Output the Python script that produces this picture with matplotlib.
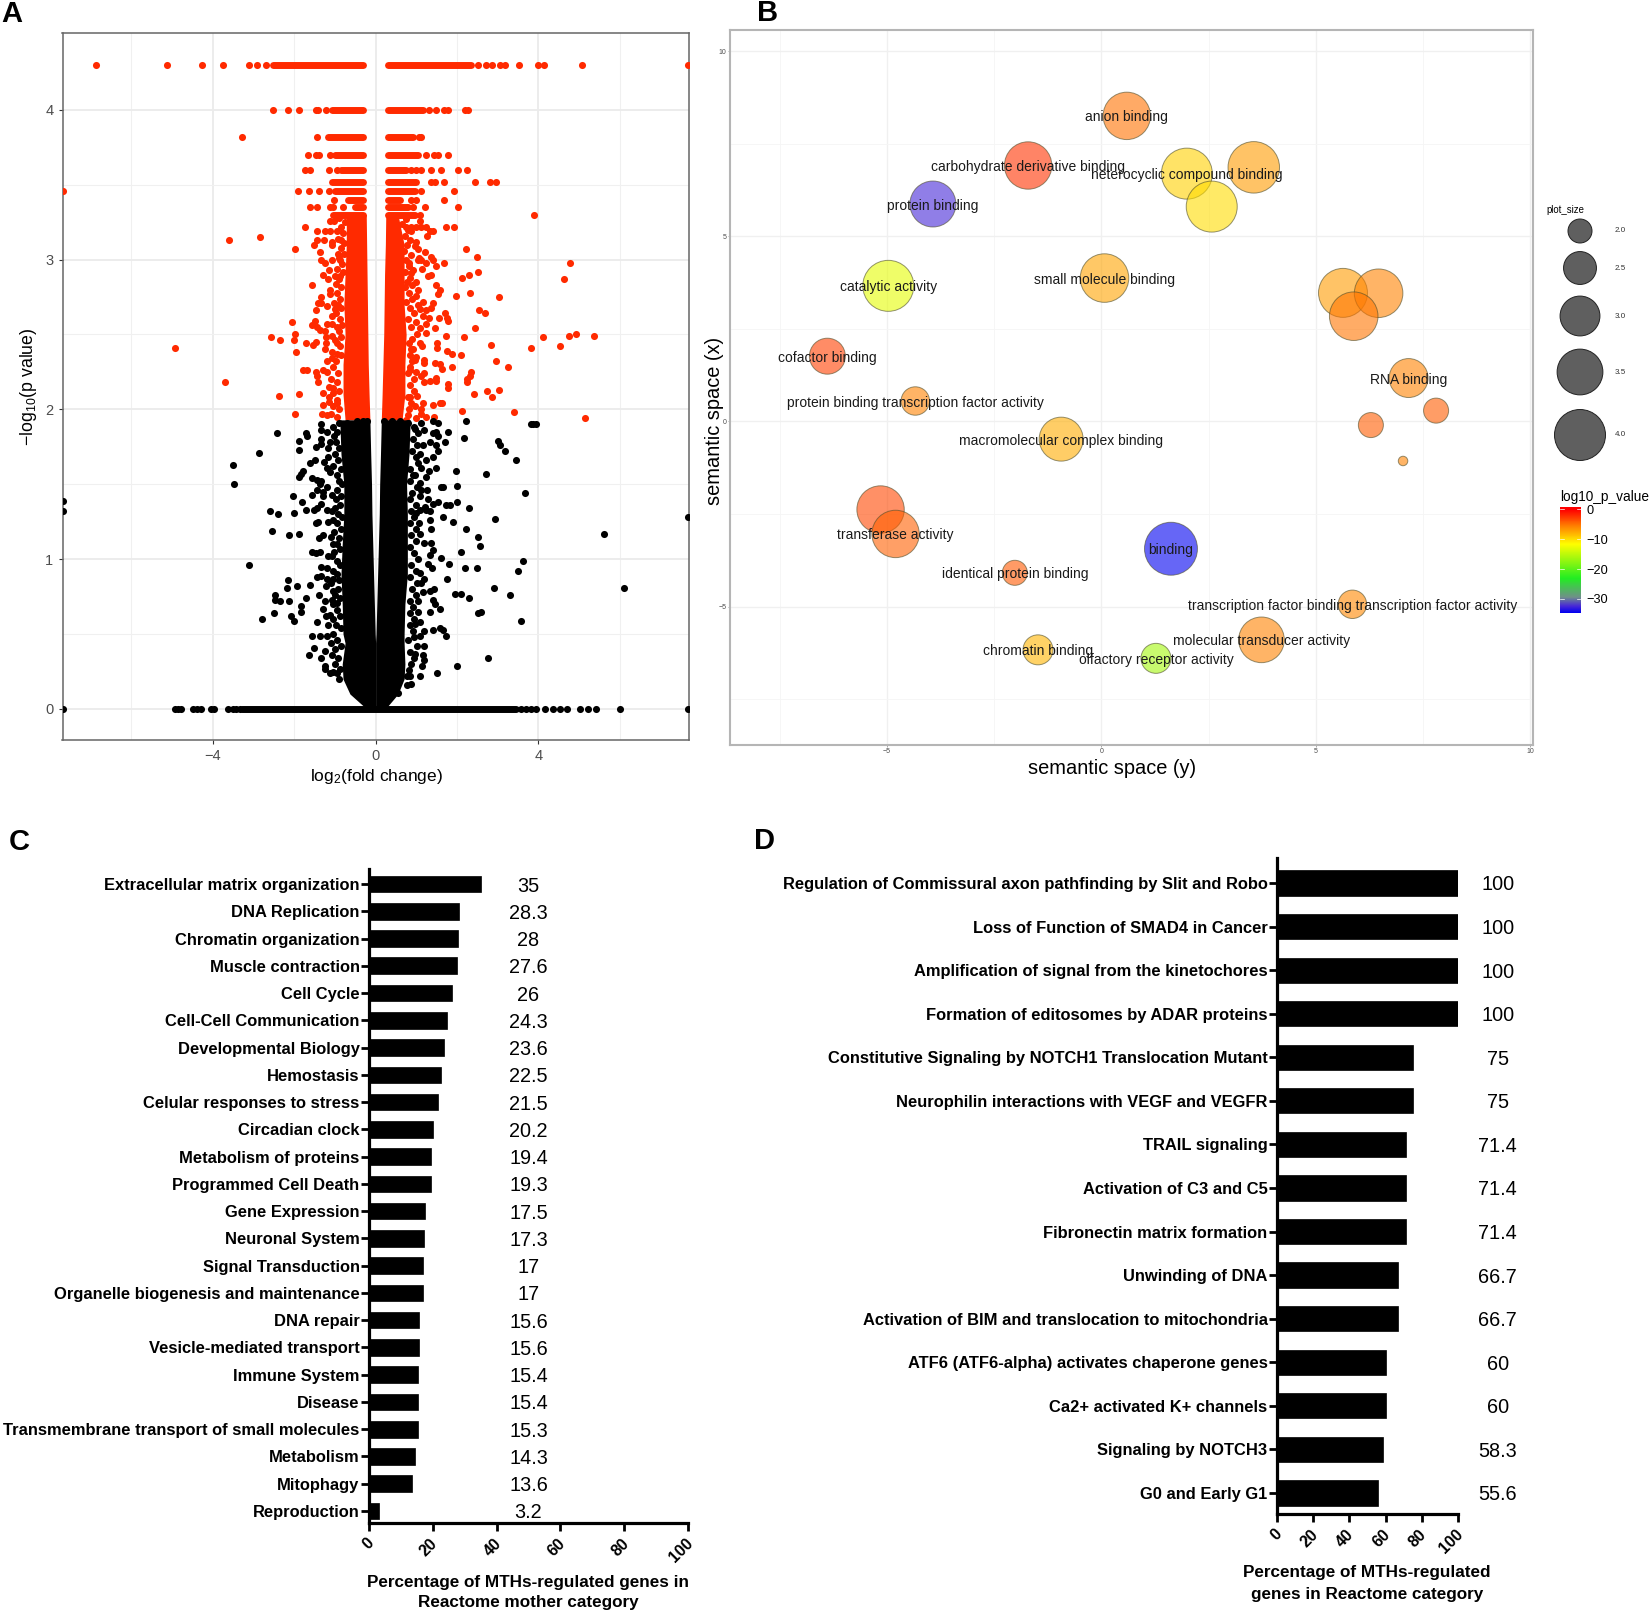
import numpy as np
import matplotlib
matplotlib.use('Agg')
import matplotlib.pyplot as plt
from matplotlib.colors import LinearSegmentedColormap
from matplotlib.transforms import ScaledTranslation

plt.rcParams['font.family'] = ['Liberation Sans', 'DejaVu Sans']
plt.rcParams['mathtext.default'] = 'regular'
plt.rcParams['axes.unicode_minus'] = True

W, H = 1650, 1614

# ---- panel A: volcano plot ----
# rows of p values that pile up, each with a solid run and some single points
red_row_y = [4.30, 4.00, 3.82, 3.70, 3.60, 3.52, 3.46, 3.40, 3.35, 3.30]
red_row_left = [-2.51, -1.08, -1.16, -1.00, -0.84, -1.06, -1.00, -0.67, -0.51, -1.04]
red_row_right = [2.35, 1.16, 0.92, 1.04, 0.75, 1.00, 0.96, 0.61, 0.80, 0.96]
red_row_single = [
    [-6.87, -5.12, -4.26, -3.74, -3.10, -2.92, -2.70, 2.52, 2.72, 2.87, 3.06, 3.19, 3.51, 3.98, 4.14, 5.07, 7.67],
    [-2.52, -2.15, -1.88, -1.47, -1.41, -1.21, 1.31, 1.49, 1.67, 1.78, 2.19, 2.28],
    [-3.29, -1.43, 1.06, 1.12],
    [-1.66, -1.47, -1.38, -1.11, 1.24, 1.43, 1.53, 1.79],
    [-1.74, -1.61, -1.14, -0.96, 0.88, 1.00, 1.12, 1.37, 1.61, 2.02, 2.25],
    [1.37, 1.45, 1.67, 2.43, 2.80, 2.95],
    [-7.67, -1.90, -1.64, -1.38, -1.15, 1.12, 1.92],
    [-1.01, 0.88, 1.00, 1.68],
    [-1.61, -1.43, -1.11, -1.04, -0.79, 0.92, 1.22, 2.03],
    [1.10, 3.90],
]

# scattered significant genes, left side then right side
red_x = [-1.11, -1.02, -1.74, -1.45, -1.24, -1.12, -0.96, -2.84, -3.60, -1.26, -1.43, -1.52, -1.06, -1.06, -0.84,
         -1.98, -1.37, -0.92, -1.33, -1.08, -1.24, -0.88, -1.29, -1.14, -1.18, -1.00, -0.88, -1.56, -1.12, -1.12,
         -1.35, -1.41, -1.33, -1.19, -1.02, -1.47, -1.00, -1.06, -2.05, -1.49, -1.57, -1.45, -1.37, -1.20, -1.08,
         -1.24, -0.96, -1.06, -1.97, -2.57, -2.35, -2.00, -1.47, -1.70, -1.53, -1.23, -1.23, -1.24, -4.93, -1.96,
         -0.96, -0.96, -1.20, -1.79, -1.68, -1.47, -1.29, -1.20, -1.45, -1.08, -3.69, -1.41, -2.38, -1.89, -1.29,
         -1.14, -1.29, -1.99, -1.31, -1.20, -1.14, -1.04, -0.96,
         1.08, 0.75, 0.88, 0.98, 1.12, 1.23, 1.73, 1.92, 1.33, 1.41, 1.26, 0.88, 1.00, 0.96, 1.04, 2.21, 1.22, 2.48,
         1.37, 1.41, 1.07, 1.04, 1.25, 0.81, 1.12, 1.67, 4.77, 1.49, 1.14, 0.92, 0.88, 2.51, 2.29, 2.12, 1.37, 1.29,
         4.63, 1.49, 0.98, 0.90, 1.57, 1.05, 1.53, 2.32, 1.97, 1.00, 3.02, 1.16, 1.41, 1.04, 1.08, 1.37, 1.24, 2.54,
         2.68, 1.70, 1.75, 1.56, 1.79, 1.16, 1.31, 1.24, 1.47, 2.44, 1.08, 1.25, 1.74, 2.18, 4.12, 4.74, 4.92, 5.36,
         4.52, 3.81, 2.84, 1.08, 1.13, 1.52, 1.51, 1.75, 1.88, 2.10, 0.93, 1.00, 0.96, 1.20, 1.20, 1.45, 1.57, 1.62,
         1.88, 2.96, 3.26, 0.84, 1.00, 1.20, 2.35, 2.31, 1.49, 1.12, 2.24, 1.78, 1.79, 2.25, 2.74, 3.02, 2.85, 2.42,
         1.02, 1.16, 1.42, 1.57, 1.63, 0.96, 1.12, 1.12, 2.12, 3.40, 5.14, 0.75, 1.00, 1.25, 1.43, 1.20, 1.33, 1.49,
         0.84]
red_y = [3.26, 3.26, 3.22, 3.19, 3.19, 3.19, 3.19, 3.15, 3.13, 3.13, 3.13, 3.10, 3.12, 3.10, 3.13,
         3.07, 3.05, 3.04, 3.00, 3.00, 2.98, 3.00, 2.90, 2.93, 2.87, 2.89, 2.89, 2.83, 2.80, 2.77,
         2.75, 2.71, 2.71, 2.69, 2.71, 2.66, 2.67, 2.62, 2.58, 2.59, 2.56, 2.55, 2.53, 2.57, 2.57,
         2.52, 2.55, 2.49, 2.50, 2.48, 2.46, 2.46, 2.45, 2.44, 2.43, 2.48, 2.44, 2.40, 2.41, 2.38,
         2.44, 2.37, 2.32, 2.26, 2.26, 2.25, 2.26, 2.25, 2.22, 2.34, 2.18, 2.18, 2.09, 2.10, 2.11,
         2.05, 2.03, 1.97, 1.97, 1.96, 2.15, 2.11, 2.04,
         3.26, 3.22, 3.22, 3.22, 3.22, 3.22, 3.22, 3.22, 3.19, 3.19, 3.16, 3.19, 3.12, 3.09, 3.07, 3.07, 3.05, 3.02,
         3.02, 3.00, 3.01, 3.00, 2.98, 2.98, 3.00, 2.98, 2.98, 2.96, 2.94, 2.93, 2.91, 2.92, 2.90, 2.88, 2.90, 2.89,
         2.87, 2.83, 2.85, 2.83, 2.80, 2.80, 2.77, 2.78, 2.76, 2.76, 2.75, 2.72, 2.71, 2.70, 2.67, 2.68, 2.66, 2.66,
         2.64, 2.64, 2.61, 2.61, 2.59, 2.62, 2.61, 2.57, 2.54, 2.54, 2.54, 2.51, 2.49, 2.48, 2.48, 2.49, 2.50, 2.49,
         2.42, 2.41, 2.43, 2.44, 2.42, 2.44, 2.41, 2.39, 2.37, 2.36, 2.40, 2.35, 2.33, 2.33, 2.31, 2.31, 2.30, 2.27,
         2.28, 2.32, 2.28, 2.26, 2.25, 2.24, 2.25, 2.22, 2.21, 2.22, 2.20, 2.17, 2.14, 2.18, 2.12, 2.13, 2.08, 2.10,
         2.09, 2.04, 2.03, 2.04, 2.04, 2.02, 2.00, 1.97, 1.99, 1.98, 1.94, 1.93, 1.94, 1.95, 1.95, 2.18, 2.19, 2.19,
         2.08]

# points crowding the edge of the solid cloud
red_edge_x = [-0.90, -0.75, -0.85, -0.80, -0.92, -0.78, -0.85, -0.78, -0.90, -0.82, -0.95, -0.80, -0.90, -0.98,
              -0.85, -0.95, -0.88, -0.92, -0.85, -0.98, -0.88, -0.82, -0.90, -0.85, -1.00, -0.88, -1.08, -0.85,
              -0.98, -1.05, -0.92, -1.10, -0.95, -1.05, -0.90, -1.15, -0.95, -1.05, -0.90, -1.10, -0.95,
              0.75, 0.65, 0.80, 0.72, 0.85, 0.78, 0.70, 0.88, 0.75, 0.82, 0.72, 0.85, 0.78, 0.72, 0.82, 0.90, 0.75,
              0.85, 0.95, 0.80, 1.00, 0.88, 1.02, 0.90, 0.82, 0.88, 0.85, 0.90, 0.85, 0.80, 0.95, 0.85, 0.95, 0.80,
              0.88, 0.82, 0.80]
red_edge_y = [3.28, 3.25, 3.22, 3.18, 3.14, 3.11, 3.08, 3.04, 3.01, 2.97, 2.94, 2.92, 2.87, 2.84,
              2.82, 2.78, 2.74, 2.70, 2.68, 2.64, 2.60, 2.56, 2.52, 2.48, 2.46, 2.42, 2.38, 2.36,
              2.32, 2.28, 2.24, 2.20, 2.18, 2.14, 2.12, 2.08, 2.06, 2.02, 2.00, 1.97, 1.95,
              3.27, 3.24, 3.20, 3.16, 3.13, 3.10, 3.06, 3.03, 3.00, 2.96, 2.92, 2.88, 2.85, 2.82, 2.78, 2.74, 2.72,
              2.68, 2.64, 2.60, 2.58, 2.55, 2.50, 2.47, 2.44, 2.40, 2.36, 2.32, 2.28, 2.24, 2.20, 2.16, 2.12, 2.08,
              2.04, 2.00, 1.96]
black_edge_x = [-1.05, -0.95, -1.02, -0.98, -0.90, -1.00, -0.92, -1.05, -0.85, -0.95, -0.90, -0.82, -0.95, -0.85,
                -0.98, -0.88, -1.00, -0.92, -0.82, -0.95, -0.85, -1.02, -0.90, -0.95, -0.88, -1.08, -0.95, -0.88,
                -1.05, -0.95, -0.90, -1.10, -0.92, -1.00, -0.88, -1.05, -0.95, -0.88, -1.05, -0.98, -0.85, -1.05,
                -0.95, -1.10, -0.85, -1.00, -1.08, -0.92, -1.00, -0.88, -0.95, -0.90,
                0.95, 1.05, 0.92, 1.02, 0.90, 0.98, 1.05, 0.85, 0.92, 0.85, 1.02, 0.90, 0.85, 0.98, 0.88, 0.95, 0.85,
                0.98, 0.88, 1.00, 0.85, 0.95, 1.05, 0.88, 0.98, 0.85, 1.02, 0.90, 0.98, 0.85, 0.92, 0.85, 0.95, 0.85,
                0.92, 0.95, 0.80, 1.02, 0.85, 0.95, 0.88, 0.82, 0.78, 0.76]
black_edge_y = [1.88, 1.85, 1.82, 1.78, 1.74, 1.70, 1.66, 1.62, 1.60, 1.56, 1.52, 1.50, 1.46, 1.42,
                1.40, 1.36, 1.34, 1.30, 1.28, 1.24, 1.20, 1.18, 1.14, 1.10, 1.07, 1.02, 0.99, 0.96,
                0.92, 0.90, 0.86, 0.84, 0.80, 0.76, 0.74, 0.70, 0.66, 0.62, 0.60, 0.56, 0.54, 0.50,
                0.46, 0.44, 0.42, 0.40, 0.36, 0.34, 0.30, 0.27, 0.24, 0.20,
                1.88, 1.84, 1.80, 1.76, 1.72, 1.68, 1.64, 1.60, 1.56, 1.52, 1.48, 1.44, 1.40, 1.36, 1.32, 1.28, 1.24,
                1.20, 1.16, 1.12, 1.08, 1.04, 1.00, 0.96, 0.92, 0.88, 0.84, 0.80, 0.76, 0.72, 0.68, 0.64, 0.60, 0.56,
                0.52, 0.48, 0.46, 0.42, 0.38, 0.34, 0.30, 0.26, 0.22, 0.16]

black_x = [-7.67, -7.67, -2.43, -1.71, -1.68, -1.88, -1.88, -1.34, -1.34, -1.20, -1.33, -1.35, -1.47, -1.16, -1.12,
           -2.87, -1.49, -1.60, -1.26, -1.16, -3.51, -1.79, -1.83, -1.88, -1.20, -1.12, -3.47, -1.55, -1.45, -1.33,
           -1.37, -1.20, -1.43, -1.30, -1.57, -2.02, -1.30, -1.08, -1.80, -1.33, -1.71, -1.45, -1.51, -2.59, -2.01,
           -2.40, -1.20, -1.08, -1.16, -1.04, -1.41, -1.47, -2.54, -1.88, -2.13, -1.29, -1.39, -1.10, -1.04, -1.57,
           -1.47, -1.37, -1.16, -1.02, -3.12, -1.33, -1.20, -1.43, -1.34, -1.20, -1.04, -2.14, -2.17, -1.92, -1.61,
           -1.22, -1.04, -1.39, -2.47, -1.70, -2.47, -2.36, -2.13, -1.24, -1.08, -0.94, -1.82, -1.84, -1.30, -2.50,
           -2.09, -2.79, -2.00, -1.22, -1.12, -1.43, -1.16, -1.57, -1.37, -1.20, -1.52, -1.24, -1.64, -1.33, -1.24,
           -1.24, -1.12, -1.04, -0.90, -0.70, -0.45, -0.30, -0.20,
           0.20, 0.40, 0.60, 0.80, 2.22, 3.82, 3.87, 3.93, 1.11, 1.41, 1.53, 1.78, 1.49, 1.20, 0.96, 2.17, 1.71, 1.53,
           1.41, 1.33, 1.16, 1.49, 1.53, 3.01, 3.05, 3.18, 3.46, 1.41, 1.25, 1.08, 1.12, 1.49, 1.31, 1.97, 2.72, 1.23,
           0.96, 1.08, 1.11, 1.26, 1.65, 1.60, 2.01, 3.67, 1.29, 1.08, 1.41, 1.54, 1.74, 1.82, 2.01, 2.29, 1.22, 1.25,
           1.08, 1.00, 1.34, 1.66, 1.90, 2.94, 1.33, 1.06, 1.37, 2.23, 1.08, 2.52, 7.67, 5.60, 2.56, 1.37, 1.20, 1.41,
           2.10, 1.33, 1.60, 3.63, 1.80, 1.29, 1.39, 2.19, 2.48, 3.49, 1.08, 1.20, 1.76, 1.12, 2.92, 6.09, 1.33, 1.43,
           1.16, 1.94, 2.10, 2.30, 3.31, 1.41, 1.45, 1.04, 1.57, 1.33, 1.04, 2.51, 2.60, 3.58, 1.08, 0.96, 1.57, 1.65,
           1.74, 1.41, 1.20, 1.08, 1.20, 1.16, 0.96, 1.20, 1.15, 2.76, 2.00, 1.52, 1.10, 0.84, 0.88, 0.55]
black_y = [1.39, 1.32, 1.84, 1.84, 1.82, 1.79, 1.73, 1.90, 1.86, 1.85, 1.80, 1.77, 1.75, 1.74, 1.78,
           1.71, 1.66, 1.64, 1.65, 1.68, 1.63, 1.59, 1.57, 1.55, 1.61, 1.58, 1.50, 1.54, 1.53, 1.52,
           1.50, 1.48, 1.46, 1.45, 1.43, 1.42, 1.42, 1.43, 1.38, 1.37, 1.33, 1.34, 1.33, 1.32, 1.31,
           1.30, 1.33, 1.32, 1.25, 1.26, 1.25, 1.24, 1.19, 1.17, 1.16, 1.16, 1.14, 1.15, 1.10, 1.05,
           1.04, 1.05, 1.02, 1.05, 0.96, 0.95, 0.94, 0.88, 0.89, 0.87, 0.87, 0.86, 0.81, 0.82, 0.83,
           0.82, 0.79, 0.76, 0.76, 0.74, 0.73, 0.72, 0.72, 0.72, 0.73, 0.71, 0.69, 0.65, 0.67, 0.64,
           0.62, 0.60, 0.59, 0.62, 0.63, 0.58, 0.56, 0.49, 0.49, 0.49, 0.41, 0.39, 0.36, 0.34, 0.29,
           0.27, 0.24, 0.25, 1.91, 1.91, 1.92, 1.92, 1.92,
           1.92, 1.92, 1.92, 1.91, 1.92, 1.90, 1.90, 1.90, 1.91, 1.92, 1.91, 1.85, 1.85, 1.86, 1.87, 1.81, 1.78, 1.82,
           1.84, 1.78, 1.76, 1.76, 1.72, 1.79, 1.76, 1.72, 1.66, 1.68, 1.66, 1.70, 1.61, 1.61, 1.59, 1.59, 1.57, 1.55,
           1.56, 1.51, 1.46, 1.46, 1.48, 1.48, 1.49, 1.44, 1.40, 1.42, 1.37, 1.38, 1.36, 1.36, 1.38, 1.34, 1.35, 1.33,
           1.33, 1.31, 1.32, 1.28, 1.25, 1.27, 1.26, 1.24, 1.20, 1.20, 1.17, 1.15, 1.28, 1.17, 1.09, 1.11, 1.11, 1.06,
           1.05, 1.03, 1.01, 0.99, 0.97, 0.97, 0.94, 0.94, 0.94, 0.92, 0.91, 0.87, 0.87, 0.84, 0.81, 0.81, 0.79, 0.80,
           0.78, 0.77, 0.77, 0.74, 0.76, 0.73, 0.70, 0.72, 0.67, 0.65, 0.65, 0.64, 0.65, 0.59, 0.58, 0.57, 0.54, 0.53,
           0.49, 0.53, 0.52, 0.49, 0.42, 0.36, 0.37, 0.33, 0.29, 0.34, 0.29, 0.24, 0.22, 0.22, 0.17, 0.11]

# p value = 1 row at the bottom
zero_row_left = -3.29
zero_row_right = 3.46
zero_row_single = [-7.67, -4.93, -4.85, -4.77, -4.48, -4.38, -4.29, -4.05, -3.96, -3.62, -3.50, -3.42, -3.33,
                   3.58, 3.70, 3.82, 3.95, 4.15, 4.36, 4.53, 4.71, 5.02, 5.22, 5.42, 6.01, 7.67]

# solid part of the cloud where the points overlap completely
red_core_y = [1.93, 2.10, 2.30, 2.50, 2.70, 2.90, 3.10, 3.30]
red_core_left_outer = [-0.75, -0.80, -0.80, -0.75, -0.78, -0.75, -0.72, -0.72]
red_core_left_inner = [-0.14, -0.16, -0.18, -0.19, -0.20, -0.21, -0.22, -0.23]
red_core_right_inner = [0.14, 0.16, 0.18, 0.20, 0.21, 0.22, 0.24, 0.25]
red_core_right_outer = [0.65, 0.72, 0.72, 0.75, 0.70, 0.70, 0.70, 0.55]

black_core_y = [0.00, 0.02, 0.10, 0.20, 0.30, 0.44, 0.50, 0.70, 0.90, 1.10, 1.30, 1.50, 1.70, 1.93]
black_core_left_outer = [-0.20, -0.30, -0.63, -0.80, -0.82, -0.75, -0.80, -0.82, -0.85, -0.82, -0.78, -0.78, -0.85, -0.88]
black_core_left_inner = [0.00, 0.00, 0.00, 0.00, 0.00, 0.00, -0.01, -0.03, -0.05, -0.07, -0.09, -0.10, -0.12, -0.14]
black_core_right_inner = [0.00, 0.00, 0.00, 0.00, 0.00, 0.00, 0.01, 0.03, 0.05, 0.07, 0.09, 0.10, 0.12, 0.14]
black_core_right_outer = [0.20, 0.30, 0.55, 0.70, 0.72, 0.70, 0.70, 0.72, 0.78, 0.78, 0.78, 0.76, 0.82, 0.85]

# ---- panel B: semantic space bubbles ----
bubble_x = [0.59, -1.71, 1.99, 2.57, 3.55, -3.93, -4.97, 0.07, 5.63, 6.46, 5.88, -6.39, -4.34, 7.16, 7.80, 6.28,
            7.03, -0.94, -5.15, -4.80, 1.62, -2.02, 5.85, 3.73, -1.48, 1.27]
bubble_y = [8.25, 6.91, 6.69, 5.80, 6.86, 5.87, 3.66, 3.87, 3.47, 3.46, 2.84, 1.76, 0.55, 1.17, 0.29, -0.10,
            -1.07, -0.48, -2.38, -3.04, -3.44, -4.09, -4.94, -5.90, -6.17, -6.40]
bubble_size = [3.65, 3.65, 4.00, 4.00, 4.05, 3.52, 4.00, 3.76, 3.80, 3.76, 3.76, 2.71, 2.23, 2.93, 2.05, 2.05,
               1.52, 3.34, 3.65, 3.65, 4.20, 2.05, 2.23, 3.49, 2.32, 2.32]
bubble_p = [-5.0, -2.3, -9.4, -10.0, -6.9, -32.5, -13.0, -7.3, -6.8, -5.6, -5.1, -2.8, -5.6, -5.6, -4.0, -4.0,
            -5.6, -7.6, -3.0, -4.2, -34.7, -3.8, -5.9, -5.6, -8.0, -16.3]
bubble_label = ['anion binding', 'carbohydrate derivative binding', 'heterocyclic compound binding', '', '',
                'protein binding', 'catalytic activity', 'small molecule binding', '', '', '', 'cofactor binding',
                'protein binding transcription factor activity', 'RNA binding', '', '', '',
                'macromolecular complex binding', '', 'transferase activity', 'binding', 'identical protein binding',
                'transcription factor binding transcription factor activity', 'molecular transducer activity',
                'chromatin binding', 'olfactory receptor activity']
legend_sizes = [2.0, 2.5, 3.0, 3.5, 4.0]
p_ticks = [0, -10, -20, -30]
p_min = -34.7

# ---- panel C ----
mother_names = ['Extracellular matrix organization', 'DNA Replication', 'Chromatin organization',
                'Muscle contraction', 'Cell Cycle', 'Cell-Cell Communication', 'Developmental Biology', 'Hemostasis',
                'Celular responses to stress', 'Circadian clock', 'Metabolism of proteins', 'Programmed Cell Death',
                'Gene Expression', 'Neuronal System', 'Signal Transduction', 'Organelle biogenesis and maintenance',
                'DNA repair', 'Vesicle-mediated transport', 'Immune System', 'Disease',
                'Transmembrane transport of small molecules', 'Metabolism', 'Mitophagy', 'Reproduction']
mother_values = [35, 28.3, 28, 27.6, 26, 24.3, 23.6, 22.5, 21.5, 20.2, 19.4, 19.3, 17.5, 17.3, 17, 17, 15.6, 15.6,
                 15.4, 15.4, 15.3, 14.3, 13.6, 3.2]

# ---- panel D ----
path_names = ['Regulation of Commissural axon pathfinding by Slit and Robo', 'Loss of Function of SMAD4 in Cancer',
              'Amplification of signal from the kinetochores', 'Formation of editosomes by ADAR proteins',
              'Constitutive Signaling by NOTCH1 Translocation Mutant', 'Neurophilin interactions with VEGF and VEGFR',
              'TRAIL signaling', 'Activation of C3 and C5', 'Fibronectin matrix formation', 'Unwinding of DNA',
              'Activation of BIM and translocation to mitochondria', 'ATF6 (ATF6-alpha) activates chaperone genes',
              'Ca2+ activated K+ channels', 'Signaling by NOTCH3', 'G0 and Early G1']
path_values = [100, 100, 100, 100, 75, 75, 71.4, 71.4, 71.4, 66.7, 66.7, 60, 60, 58.3, 55.6]
pct_ticks = [0, 20, 40, 60, 80, 100]


def add_axes_px(fig, left, top, right, bottom):
    return fig.add_axes([left / W, 1 - bottom / H, (right - left) / W, (bottom - top) / H])


def text_px(fig, x, y, s, **kw):
    fig.text(x / W, 1 - y / H, s, **kw)


def size_to_points2(size):
    # marker area grows linearly with plot_size, diameter given in pixels
    d2 = 576 + 1012 * (np.asarray(size) - 2)
    return d2 * 0.72 ** 2


def ggplot_frame(ax, frame_color, frame_lw, major_color='#ebebeb', minor_color='#f0f0f0', major_lw=1.3, minor_lw=0.8):
    ax.set_facecolor('white')
    ax.grid(True, which='major', color=major_color, linewidth=major_lw, zorder=0)
    ax.grid(True, which='minor', color=minor_color, linewidth=minor_lw, zorder=0)
    ax.tick_params(which='minor', length=0)
    ax.set_axisbelow(True)
    for s in ax.spines.values():
        s.set_color(frame_color)
        s.set_linewidth(frame_lw)


def hbar_panel(fig, names, values, box, row_first, row_step, bar_h, value_x):
    left, top, right, bottom = box
    ax = add_axes_px(fig, left, top, right, bottom)
    n = len(names)
    y = np.arange(n)
    ax.barh(y, values, height=bar_h, color='black', edgecolor='black', linewidth=0.5)
    ax.set_xlim(0, 100)
    ax.set_ylim(n - 1 + (bottom - (row_first + (n - 1) * row_step)) / row_step, -(row_first - top) / row_step)
    ax.set_yticks(y)
    ax.set_yticklabels(names, fontweight='bold', fontsize=11.85)
    ax.set_xticks(pct_ticks)
    ax.set_xticklabels(pct_ticks, fontweight='bold', fontsize=11.5, rotation=45, ha='right', rotation_mode='anchor')
    ax.tick_params(axis='y', length=5.8, width=2, pad=1)
    ax.tick_params(axis='x', length=6, width=2, pad=3)
    shift = ScaledTranslation(-3 / 100, 0, fig.dpi_scale_trans)
    for lab in ax.get_xticklabels():
        lab.set_transform(lab.get_transform() + shift)
    ax.spines['top'].set_visible(False)
    ax.spines['right'].set_visible(False)
    ax.spines['left'].set_linewidth(2.3)
    ax.spines['bottom'].set_linewidth(2.3)
    for i, v in enumerate(values):
        ax.text(value_x, i, f'{v:g}', ha='center', va='center_baseline', fontsize=14.3, clip_on=False)
    return ax


fig = plt.figure(figsize=(W / 100, H / 100), dpi=100)
fig.patch.set_facecolor('white')

# panel A
ax_a = add_axes_px(fig, 62.5, 32.6, 688.7, 740)
ggplot_frame(ax_a, '#666666', 1.1)
ax_a.set_xlim(-7.69, 7.69)
ax_a.set_ylim(-0.207, 4.515)
ax_a.set_xticks([-4, 0, 4])
ax_a.set_xticks([-6, -2, 2, 6], minor=True)
ax_a.set_yticks([0, 1, 2, 3, 4])
ax_a.set_yticks([0.5, 1.5, 2.5, 3.5], minor=True)
ax_a.set_xticklabels(['\u22124', '0', '4'])
ax_a.tick_params(which='major', labelsize=10.5, labelcolor='#4d4d4d', color='#333333', length=3, width=0.8)

RED = '#ff2a00'
dot = 26
lw_row = 5
for y0, x0, x1, singles in zip(red_row_y, red_row_left, red_row_right, red_row_single):
    ax_a.plot([x0, -0.30], [y0, y0], color=RED, lw=lw_row, solid_capstyle='round', zorder=3)
    ax_a.plot([0.30, x1], [y0, y0], color=RED, lw=lw_row, solid_capstyle='round', zorder=3)
    ax_a.scatter(singles, [y0] * len(singles), s=dot, color=RED, linewidths=0, zorder=3)
ax_a.fill_betweenx(red_core_y, red_core_left_outer, red_core_left_inner, color=RED, lw=0, zorder=3)
ax_a.fill_betweenx(red_core_y, red_core_right_inner, red_core_right_outer, color=RED, lw=0, zorder=3)
ax_a.scatter(red_x, red_y, s=dot, color=RED, linewidths=0, zorder=3)
ax_a.scatter(red_edge_x, red_edge_y, s=dot, color=RED, linewidths=0, zorder=3)

ax_a.fill_betweenx(black_core_y, black_core_left_outer, black_core_left_inner, color='black', lw=0, zorder=4)
ax_a.fill_betweenx(black_core_y, black_core_right_inner, black_core_right_outer, color='black', lw=0, zorder=4)
ax_a.scatter(black_x, black_y, s=dot, color='black', linewidths=0, zorder=4)
ax_a.scatter(black_edge_x, black_edge_y, s=dot, color='black', linewidths=0, zorder=4)
ax_a.plot([zero_row_left, zero_row_right], [0, 0], color='black', lw=lw_row, solid_capstyle='round', zorder=4)
ax_a.scatter(zero_row_single, [0] * len(zero_row_single), s=dot, color='black', linewidths=0, zorder=4)

text_px(fig, 376, 776.5, 'log$_{2}$(fold change)', ha='center', va='center', fontsize=12.5)
text_px(fig, 29, 387, '\u2212log$_{10}$(p value)', ha='center', va='center', rotation=90, fontsize=12.8)

# panel B
ax_b = add_axes_px(fig, 730, 29.6, 1532.6, 745)
ggplot_frame(ax_b, '#b5b5b5', 1.5, major_color='#f0f0f0', minor_color='#f5f5f5', major_lw=1.0, minor_lw=0.6)
ax_b.set_xlim(-8.66, 10.05)
ax_b.set_ylim(-8.74, 10.58)
ax_b.set_xticks([-5, 0, 5, 10])
ax_b.set_xticks([-7.5, -2.5, 2.5, 7.5], minor=True)
ax_b.set_yticks([-5, 0, 5, 10])
ax_b.set_yticks([-7.5, -2.5, 2.5, 7.5], minor=True)
ax_b.set_xticklabels(['\u22125', '0', '5', '10'])
ax_b.set_yticklabels(['\u22125', '0', '5', '10'])
ax_b.tick_params(which='major', labelsize=5, labelcolor='#4d4d4d', color='#888888', length=1.5, width=0.5, pad=1)

p_stops = [p_min, -32.5, -29.5, -23.1, -11.6, -5.5, 0]
p_colors = ['#0000f0', '#4828d8', '#70908a', '#22ee22', '#ffff00', '#ff8000', '#ff0000']
cmap = LinearSegmentedColormap.from_list('p_map', [((p - p_min) / -p_min, c) for p, c in zip(p_stops, p_colors)])

ax_b.scatter(bubble_x, bubble_y, s=size_to_points2(bubble_size), c=bubble_p, cmap=cmap, vmin=p_min, vmax=0, alpha=0.6,
             edgecolors='#4d4d2a', linewidths=0.7, zorder=3)
for x0, y0, lab in zip(bubble_x, bubble_y, bubble_label):
    if lab:
        ax_b.text(x0, y0, lab, ha='center', va='center_baseline', fontsize=10.0, color='#1a1a1a', zorder=5)

text_px(fig, 1112, 768, 'semantic space (y)', ha='center', va='center', fontsize=14.4)
text_px(fig, 714, 421, 'semantic space (x)', ha='center', va='center', rotation=90, fontsize=14.4)

# legend of panel B, on a figure wide layer in pixels
ax_leg = fig.add_axes([0, 0, 1, 1], facecolor='none')
ax_leg.set_xlim(0, W)
ax_leg.set_ylim(H, 0)
ax_leg.axis('off')
legend_row_px = [231, 268, 316, 372, 435]
ax_leg.scatter([1580] * 5, legend_row_px, s=size_to_points2(legend_sizes), color='#5f5f5f', edgecolors='#222222',
               linewidths=0.7)
for s0, y0 in zip(legend_sizes, legend_row_px):
    ax_leg.text(1620, y0, f'{s0:.1f}', ha='center', va='center', fontsize=5.8, color='#333333')
ax_leg.text(1565, 210, 'plot_size', ha='center', va='center', fontsize=6.9)
ax_leg.text(1560, 497, 'log10_p_value', ha='left', va='center', fontsize=9.8)

ax_cb = add_axes_px(fig, 1560, 507, 1581, 613)
gradient = np.linspace(0.8, p_min, 256).reshape(-1, 1)
ax_cb.imshow(gradient, aspect='auto', cmap=cmap, vmin=p_min, vmax=0, extent=[0, 1, p_min, 0.8])
ax_cb.set_xticks([])
ax_cb.yaxis.tick_right()
ax_cb.set_yticks(p_ticks)
ax_cb.set_yticklabels(['0', '\u221210', '\u221220', '\u221230'], fontsize=9.2)
ax_cb.tick_params(axis='y', length=0, pad=4)
for s in ax_cb.spines.values():
    s.set_visible(False)
for p in p_ticks:
    ax_cb.plot([0, 0.2], [p, p], color='white', lw=0.5)
    ax_cb.plot([0.8, 1], [p, p], color='white', lw=0.5)
ax_cb.set_xlim(0, 1)

# panels C and D
hbar_panel(fig, mother_names, mother_values, (369, 869, 688, 1523), 884, 27.26, 0.61, 50)
hbar_panel(fig, path_names, path_values, (1277, 858, 1458, 1514), 883, 43.57, 0.58, 122)

text_px(fig, 528, 1582, 'Percentage of MTHs-regulated genes in', ha='center', va='center', fontweight='bold', fontsize=12.3)
text_px(fig, 528, 1603, 'Reactome mother category', ha='center', va='center', fontweight='bold', fontsize=12.3)
text_px(fig, 1367, 1573, 'Percentage of MTHs-regulated', ha='center', va='center', fontweight='bold', fontsize=12.3)
text_px(fig, 1367, 1594, 'genes in Reactome category', ha='center', va='center', fontweight='bold', fontsize=12.3)

# panel letters
for letter, x0, y0 in [('A', 12, 14), ('B', 768, 13), ('C', 19, 842), ('D', 765, 841)]:
    text_px(fig, x0, y0, letter, ha='center', va='center', fontweight='bold', fontsize=21)

fig.savefig('out.png', dpi=100)
